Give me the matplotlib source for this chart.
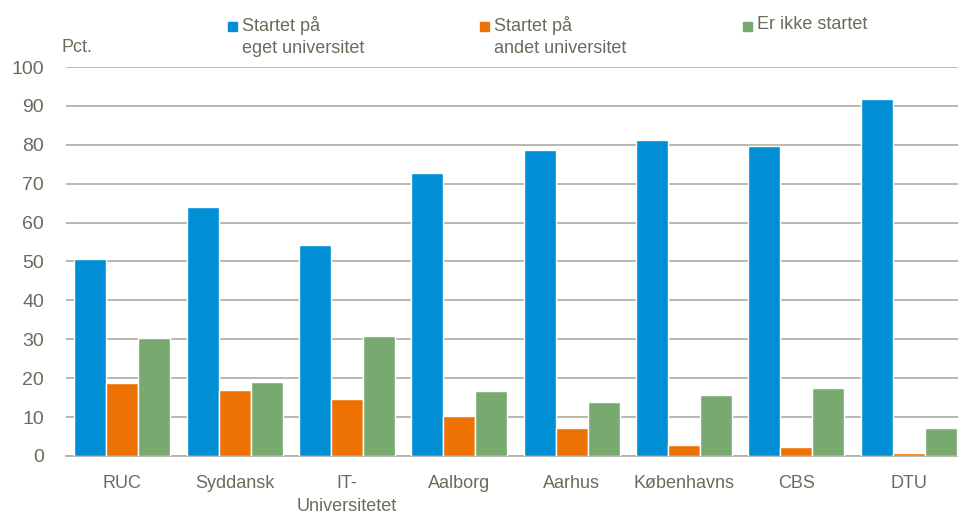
import matplotlib.pyplot as plt
import numpy as np
from matplotlib.patches import Rectangle

plt.rcParams['font.family'] = ['Liberation Sans', 'DejaVu Sans']

# Data
universiteter = ['RUC', 'Syddansk', 'IT-\nUniversitetet', 'Aalborg', 'Aarhus',
                 'Københavns', 'CBS', 'DTU']
eget = [50.6, 64.0, 54.2, 72.8, 78.7, 81.2, 79.7, 91.8]
andet = [18.8, 17.0, 14.7, 10.3, 7.2, 2.8, 2.3, 0.8]
ikke = [30.3, 19.0, 30.8, 16.7, 13.9, 15.7, 17.5, 7.2]

serier = ['Startet på\neget universitet', 'Startet på\nandet universitet', 'Er ikke startet']
farver = ['#008fd5', '#ee7203', '#78aa6f']
tekst = '#6b6b5c'
gitter = '#b4b3a6'

fig = plt.figure(figsize=(9.58, 5.15), dpi=100)
ax = fig.add_axes([0.069, 0.1146, 0.931, 0.7553])

x = np.arange(len(universiteter))
w = 0.285
for i, (vals, farve) in enumerate(zip([eget, andet, ikke], farver)):
    ax.bar(x + (i - 1) * w, vals, width=w, color=farve, edgecolor='white',
           linewidth=1.0, zorder=3)

ax.set_ylim(0, 100)
ax.set_xlim(-0.5, 7.44)
ax.set_yticks(range(0, 101, 10))
ax.set_xticks(x)
ax.set_xticklabels(universiteter)
ax.yaxis.grid(True, color=gitter, linewidth=1.3, zorder=0)
ax.set_axisbelow(True)
for s in ['top', 'right', 'left']:
    ax.spines[s].set_visible(False)
ax.spines['bottom'].set_color(gitter)
ax.spines['bottom'].set_linewidth(1.3)
ax.tick_params(axis='both', length=0, colors=tekst)
ax.tick_params(axis='y', pad=16, labelsize=14)
ax.tick_params(axis='x', pad=14, labelsize=13)
for lab in ax.get_yticklabels() + ax.get_xticklabels():
    lab.set_color(tekst)
    lab.set_linespacing(1.45)

fig.text(62 / 958, 1 - 48 / 515, 'Pct.', fontsize=13, color=tekst, va='center', ha='left')

# Legend drawn manually at the top
leg_x = [228, 480, 743]
for lx, navn, farve in zip(leg_x, serier, farver):
    fig.add_artist(Rectangle((lx / 958, 1 - 31 / 515), 9 / 958, 9 / 515,
                             transform=fig.transFigure, color=farve))
    fig.text((lx + 14) / 958, 1 - 16 / 515, navn, fontsize=13, color=tekst,
             va='top', ha='left', linespacing=1.4)

fig.savefig('out.png', dpi=100)
